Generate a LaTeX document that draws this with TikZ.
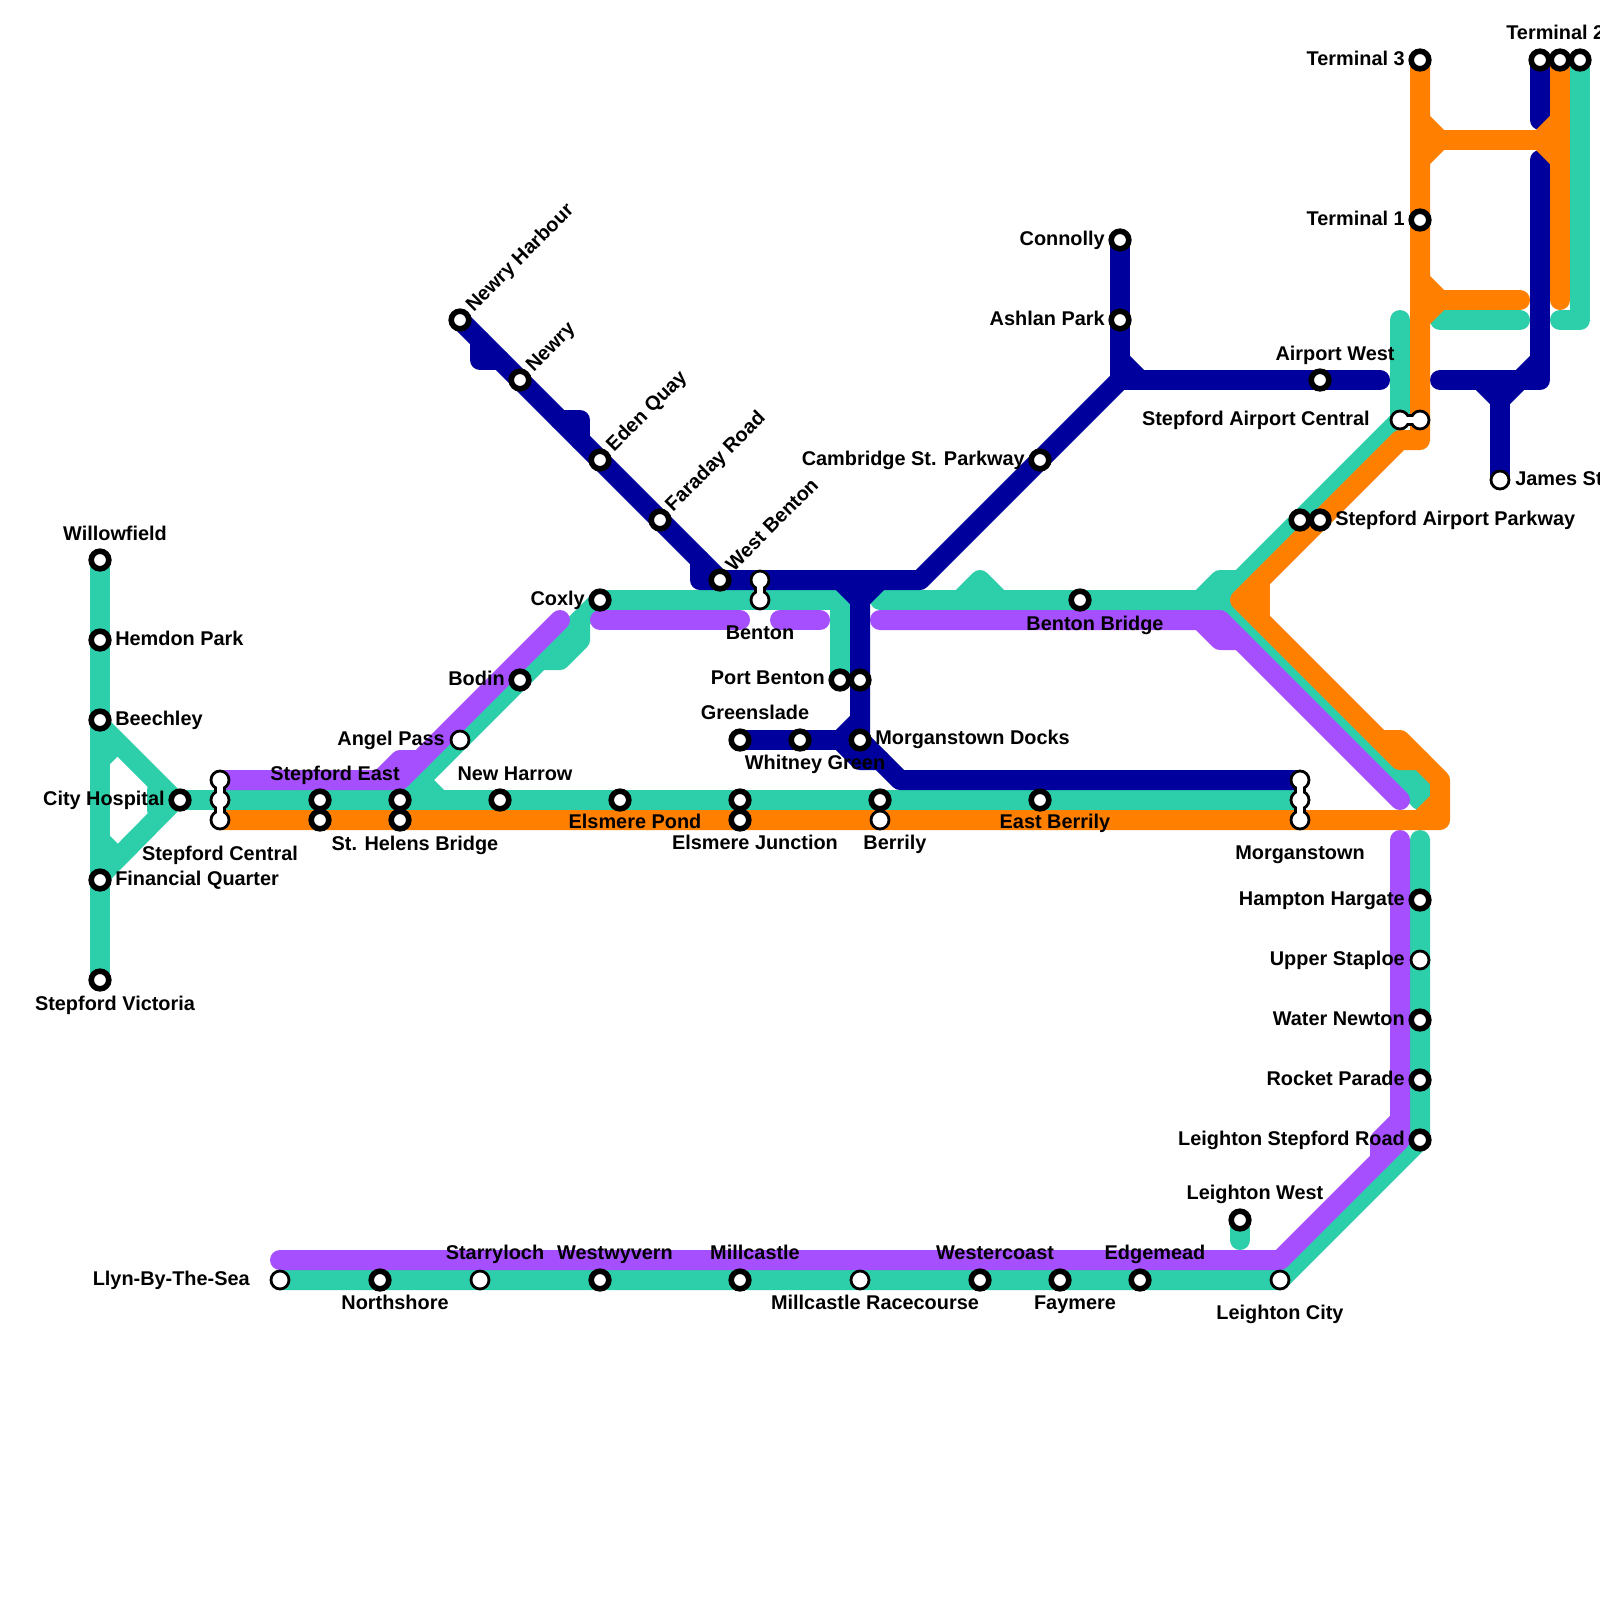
\documentclass[tikz,border=0pt]{standalone}
\usepackage{fontspec}
\setmainfont{Liberation Sans}
\usetikzlibrary{backgrounds}
\definecolor{lineteal}{HTML}{2DCFAB}
\definecolor{linepurple}{HTML}{A64FFF}
\definecolor{linenavy}{HTML}{00009C}
\definecolor{lineorange}{HTML}{FF7F00}
\tikzset{
  metroline/.style={line width=5mm,line cap=round,line join=round},
  tealline/.style={metroline,draw=lineteal},
  purpleline/.style={metroline,draw=linepurple},
  navyline/.style={metroline,draw=linenavy},
  orangeline/.style={metroline,draw=lineorange},
  stn/.style={circle,draw=black,fill=white,line width=1.4mm,minimum size=4.4mm,inner sep=0pt},
  stnopen/.style={circle,draw=black,fill=white,line width=0.7mm,minimum size=4.5mm,inner sep=0pt},
  linkback/.style={draw=black,line width=3.2mm},
  linkfront/.style={draw=white,line width=1.7mm},
  lbl/.style={font=\bfseries\fontsize{14.15}{16}\selectfont,inner sep=0pt,anchor=base},
  lbll/.style={lbl,anchor=base east},
  lblr/.style={lbl,anchor=base west},
  lblrot/.style={lblr,rotate=45}
}
\begin{document}
\begin{tikzpicture}[x=0.5cm,y=-0.5cm]
\useasboundingbox (0,0) rectangle (80,80);
% stations
\node[stn] (willowfield) at (5,28) {};
\node[stn] (hemdon) at (5,32) {};
\node[stn] (beechley) at (5,36) {};
\node[stn] (financial) at (5,44) {};
\node[stn] (victoria) at (5,49) {};
\node[stn] (cityhospital) at (9,40) {};
\node[stnopen] (centrala) at (11,39) {};
\node[stnopen] (centralb) at (11,40) {};
\node[stnopen] (centralc) at (11,41) {};
\node[stn] (easta) at (16,40) {};
\node[stn] (eastb) at (16,41) {};
\node[stn] (helensa) at (20,40) {};
\node[stn] (helensb) at (20,41) {};
\node[stn] (newharrow) at (25,40) {};
\node[stn] (elsmerepond) at (31,40) {};
\node[stn] (elsmerea) at (37,40) {};
\node[stn] (elsmereb) at (37,41) {};
\node[stn] (berrilya) at (44,40) {};
\node[stnopen] (berrilyb) at (44,41) {};
\node[stn] (eastberrily) at (52,40) {};
\node[stnopen] (morgana) at (65,39) {};
\node[stnopen] (morganb) at (65,40) {};
\node[stnopen] (morganc) at (65,41) {};
\node[stnopen] (angelpass) at (23,37) {};
\node[stn] (bodin) at (26,34) {};
\node[stn] (coxly) at (30,30) {};
\node[stn] (harbour) at (23,16) {};
\node[stn] (newry) at (26,19) {};
\node[stn] (edenquay) at (30,23) {};
\node[stn] (faraday) at (33,26) {};
\node[stn] (westbenton) at (36,29) {};
\node[stnopen] (bentona) at (38,29) {};
\node[stnopen] (bentonb) at (38,30) {};
\node[stn] (portbentona) at (42,34) {};
\node[stn] (portbentonb) at (43,34) {};
\node[stn] (greenslade) at (37,37) {};
\node[stn] (whitney) at (40,37) {};
\node[stn] (docks) at (43,37) {};
\node[stn] (connolly) at (56,12) {};
\node[stn] (ashlan) at (56,16) {};
\node[stn] (cambridge) at (52,23) {};
\node[stn] (airportwest) at (66,19) {};
\node[stn] (bentonbridge) at (54,30) {};
\node[stn] (terminalthree) at (71,3) {};
\node[stn] (terminalone) at (71,11) {};
\node[stn] (terminaltwoa) at (77,3) {};
\node[stn] (terminaltwob) at (78,3) {};
\node[stn] (terminaltwoc) at (79,3) {};
\node[stnopen] (aircentrala) at (70,21) {};
\node[stnopen] (aircentralb) at (71,21) {};
\node[stnopen] (james) at (75,24) {};
\node[stn] (parkwaya) at (65,26) {};
\node[stn] (parkwayb) at (66,26) {};
\node[stn] (hampton) at (71,45) {};
\node[stnopen] (staploe) at (71,48) {};
\node[stn] (waternewton) at (71,51) {};
\node[stn] (rocket) at (71,54) {};
\node[stn] (leightonroad) at (71,57) {};
\node[stn] (leightonwest) at (62,61) {};
\node[stnopen] (leightoncity) at (64,64) {};
\node[stn] (edgemead) at (57,64) {};
\node[stn] (faymere) at (53,64) {};
\node[stn] (westercoast) at (49,64) {};
\node[stnopen] (racecourse) at (43,64) {};
\node[stn] (millcastle) at (37,64) {};
\node[stn] (westwyvern) at (30,64) {};
\node[stnopen] (starryloch) at (24,64) {};
\node[stn] (northshore) at (19,64) {};
\node[stnopen] (llyn) at (14,64) {};
\begin{scope}[on background layer]
% teal
\draw[tealline] (willowfield.center) -- (victoria.center);
\draw[tealline] (5,36.25) -- (8.75,40) -- (5,43.8);
\draw[tealline] (5,38) -- (5.8,37.2);
\draw[tealline] (5,42) -- (5.8,42.8);
\draw[tealline] (7.85,39.5) -- (7.85,40.5);
\draw[tealline] (cityhospital.center) -- (morganb.center);
\draw[tealline] (coxly.center) -- (helensa.center);
\draw[tealline] (21,39) -- (22,40);
\draw[tealline] (29,31) -- (29,32) -- (28,33) -- (27,33);
\draw[tealline] (coxly.center) -- (42,30) -- (portbentona.center);
\draw[tealline] (44,30) -- (61,30);
\draw[tealline] (48,30) -- (49,29) -- (50,30);
\draw[tealline] (60,30) -- (61,29) -- (62,29);
\draw[tealline] (aircentrala.center) -- (61,30) -- (71,40);
\draw[tealline] (70,39) -- (71,39) -- (71,40);
\draw[tealline] (70,16) -- (aircentrala.center);
\draw[tealline] (72,16) -- (76,16);
\draw[tealline] (terminaltwoc.center) -- (79,16) -- (78,16);
\draw[tealline] (71,42) -- (leightonroad.center) -- (leightoncity.center) -- (llyn.center);
\draw[tealline] (leightonwest.center) -- (62,62);
% purple
\draw[purpleline] (centrala.center) -- (20,39) -- (28,31);
\draw[purpleline] (19,39) -- (20,38) -- (21,38);
\draw[purpleline] (30,31) -- (37,31);
\draw[purpleline] (39,31) -- (41,31);
\draw[purpleline] (44,31) -- (61,31) -- (70,40);
\draw[purpleline] (60,31) -- (61,32) -- (62,32);
\draw[purpleline] (70,42) -- (70,57) -- (64,63) -- (14,63);
\draw[purpleline] (70,56) -- (69,57) -- (69,58);
% navy
\draw[navyline] (harbour.center) -- (westbenton.center);
\draw[navyline] (35,28) -- (35,29) -- (46,29) -- (56,19);
\draw[navyline] (connolly.center) -- (56,19) -- (69,19);
\draw[navyline] (56,18) -- (57,19);
\draw[navyline] (24,17) -- (24,18) -- (25,18);
\draw[navyline] (28,21) -- (29,21) -- (29,22);
\draw[navyline] (42,29) -- (43,30) -- (44,29);
\draw[navyline] (43,29) -- (docks.center) -- (45,39) -- (morgana.center);
\draw[navyline] (greenslade.center) -- (docks.center);
\draw[navyline] (43,36) -- (42,37) -- (43,38) -- (44,38);
\draw[navyline] (72,19) -- (77,19) -- (77,8);
\draw[navyline] (terminaltwoa.center) -- (77,6);
\draw[navyline] (76,19) -- (77,18);
\draw[navyline] (74,19) -- (75,20) -- (76,19);
\draw[navyline] (75,20) -- (james.center);
% orange
\draw[orangeline] (terminalthree.center) -- (71,22) -- (70,22) -- (62,30) -- (70,38) -- (71,38);
\draw[orangeline] (69,37) -- (70,37) -- (72,39) -- (72,41) -- (centralc.center);
\draw[orangeline] (63,29) -- (63,31);
\draw[orangeline] (72,40) -- (71,41);
\draw[orangeline] (71,6) -- (72,7) -- (71,8);
\draw[orangeline] (71,7) -- (78,7);
\draw[orangeline] (78,6) -- (77,7) -- (78,8);
\draw[orangeline] (71,14) -- (72,15) -- (71,16);
\draw[orangeline] (71,15) -- (76,15);
\draw[orangeline] (terminaltwob.center) -- (78,15);
% links behind the rings
\draw[linkback] (centrala.center) -- (centralc.center);
\draw[linkback] (morgana.center) -- (morganc.center);
\draw[linkback] (bentona.center) -- (bentonb.center);
\draw[linkback] (aircentrala.center) -- (aircentralb.center);
\end{scope}
\draw[linkfront] (centrala.center) -- (centralc.center);
\draw[linkfront] (morgana.center) -- (morganc.center);
\draw[linkfront] (bentona.center) -- (bentonb.center);
\draw[linkfront] (aircentrala.center) -- (aircentralb.center);
% labels
\node[lbl] (willowfieldtxt) at (5.75,27.03) {Willowfield};
\node[lblr] (hemdontxt) at (5.75,32.25) {Hemdon Park};
\node[lblr] (beechleytxt) at (5.75,36.25) {Beechley};
\node[lbll] (cityhospitaltxt) at (8.25,40.25) {City Hospital};
\node[lbl] (centraltxt) at (11,43) {Stepford Central};
\node[lblr] (financialtxt) at (5.75,44.25) {Financial Quarter};
\node[lbl] (victoriatxt) at (5.75,50.5) {Stepford Victoria};
\node[lbl] (easttxt) at (16.75,39) {Stepford East};
\node[lbl] (helenstxt) at (20.75,42.5) {St. Helens Bridge};
\node[lbl] (newharrowtxt) at (25.75,39) {New Harrow};
\node[lbll] (angelpasstxt) at (22.25,37.25) {Angel Pass};
\node[lbll] (bodintxt) at (25.25,34.25) {Bodin};
\node[lbll] (coxlytxt) at (29.25,30.25) {Coxly};
\node[lbl] (elsmerepondtxt) at (31.75,41.4) {Elsmere Pond};
\node[lbl] (elsmeretxt) at (37.75,42.45) {Elsmere Junction};
\node[lbl] (berrilytxt) at (44.75,42.45) {Berrily};
\node[lbl] (eastberrilytxt) at (52.75,41.4) {East Berrily};
\node[lbl] (morgantxt) at (65,42.95) {Morganstown};
\node[lblrot] (harbourtxt) at (23.68,15.62) {Newry Harbour};
\node[lblrot] (newrytxt) at (26.68,18.62) {Newry};
\node[lblrot] (edenquaytxt) at (30.7,22.62) {Eden Quay};
\node[lblrot] (faradaytxt) at (33.65,25.62) {Faraday Road};
\node[lblrot] (westbentontxt) at (36.68,28.62) {West Benton};
\node[lbl] (bentontxt) at (38,31.95) {Benton};
\node[lbll] (portbentontxt) at (41.25,34.2) {Port Benton};
\node[lbl] (greensladetxt) at (37.75,35.95) {Greenslade};
\node[lbl] (whitneytxt) at (40.75,38.45) {Whitney Green};
\node[lblr] (dockstxt) at (43.75,37.2) {Morganstown Docks};
\node[lbll] (connollytxt) at (55.25,12.25) {Connolly};
\node[lbll] (ashlantxt) at (55.25,16.25) {Ashlan Park};
\node[lbll] (cambridgetxt) at (51.25,23.25) {Cambridge St. Parkway};
\node[lbl] (airportwesttxt) at (66.75,18) {Airport West};
\node[lbl] (bentonbridgetxt) at (54.75,31.5) {Benton Bridge};
\node[lbll] (terminalthreetxt) at (70.25,3.25) {Terminal 3};
\node[lbll] (terminalonetxt) at (70.25,11.25) {Terminal 1};
\node[lblr] (terminaltwotxt) at (75.3,1.95) {Terminal 2};
\node[lbll] (aircentraltxt) at (68.5,21.25) {Stepford Airport Central};
\node[lblr] (jamestxt) at (75.75,24.25) {James St};
\node[lblr] (parkwaytxt) at (66.75,26.25) {Stepford Airport Parkway};
\node[lbll] (hamptontxt) at (70.25,45.25) {Hampton Hargate};
\node[lbll] (staploetxt) at (70.25,48.25) {Upper Staploe};
\node[lbll] (waternewtontxt) at (70.25,51.25) {Water Newton};
\node[lbll] (rockettxt) at (70.25,54.25) {Rocket Parade};
\node[lbll] (leightonroadtxt) at (70.25,57.25) {Leighton Stepford Road};
\node[lbl] (leightonwesttxt) at (62.75,59.95) {Leighton West};
\node[lbl] (leightoncitytxt) at (64,65.95) {Leighton City};
\node[lbl] (edgemeadtxt) at (57.75,62.95) {Edgemead};
\node[lbl] (westercoasttxt) at (49.75,62.95) {Westercoast};
\node[lbl] (millcastletxt) at (37.75,62.95) {Millcastle};
\node[lbl] (westwyverntxt) at (30.75,62.95) {Westwyvern};
\node[lbl] (starrylochtxt) at (24.75,62.95) {Starryloch};
\node[lbll] (llyntxt) at (12.5,64.25) {Llyn-By-The-Sea};
\node[lbl] (northshoretxt) at (19.75,65.45) {Northshore};
\node[lbl] (racecoursetxt) at (43.75,65.45) {Millcastle Racecourse};
\node[lbl] (faymeretxt) at (53.75,65.45) {Faymere};
\end{tikzpicture}
\end{document}
